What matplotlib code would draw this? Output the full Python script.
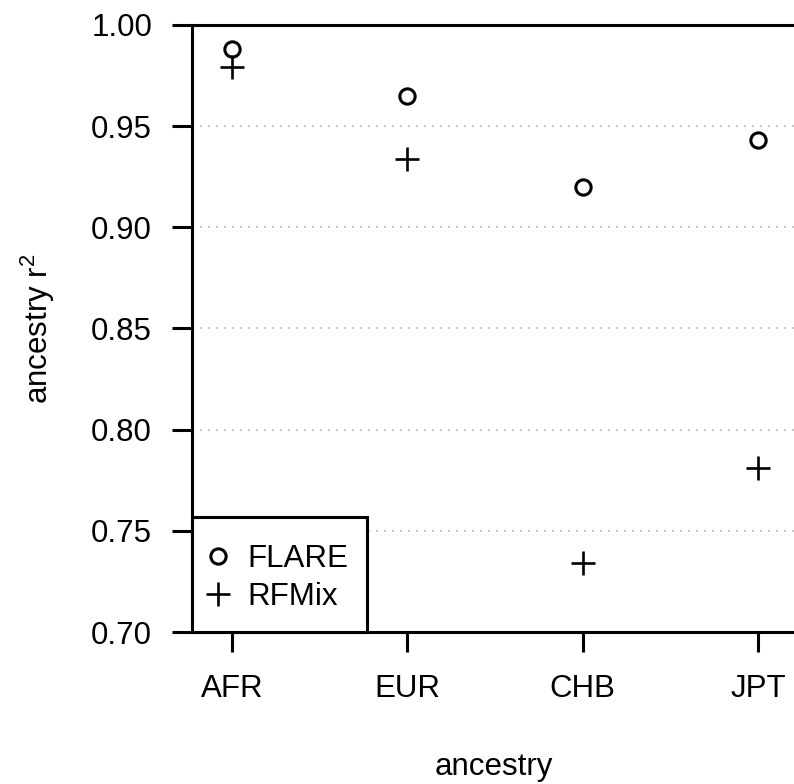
import matplotlib.pyplot as plt
import numpy as np
from matplotlib.patches import Rectangle

plt.rcParams['font.family'] = ['Liberation Sans', 'DejaVu Sans']
plt.rcParams['mathtext.fontset'] = 'custom'
plt.rcParams['mathtext.rm'] = 'Liberation Sans'
plt.rcParams['mathtext.it'] = 'Liberation Sans'

ancestry = ["AFR", "EUR", "CHB", "JPT"]
flare = [0.988, 0.965, 0.920, 0.943]
rfmix = [0.979, 0.934, 0.734, 0.781]
yticks = [0.70, 0.75, 0.80, 0.85, 0.90, 0.95, 1.00]
grid_y = [0.75, 0.80, 0.85, 0.90, 0.95]

fs = 22.5
lw = 2.2

fig = plt.figure(figsize=(7.94, 7.84), dpi=100)
ax = fig.add_axes([192 / 794, 1 - 632 / 784, 1 - 192 / 794, (632 - 25) / 784])

x = np.arange(1, len(ancestry) + 1)

for g in grid_y:
    ax.axhline(g, color="#c8c8c8", lw=1.44, ls=(0, (1, 3)), zorder=0)

ax.plot(x, flare, ls="none", marker="o", ms=11, mfc="none", mec="black", mew=2.2, label="FLARE")
ax.plot(x, rfmix, ls="none", marker="+", ms=17, mec="black", mew=1.9, label="RFMix")

ax.set_xlim(1 - 40 / 175.5, 4 + 36 / 175.5)
ax.set_ylim(0.70, 1.00)
ax.set_xticks(x)
ax.set_xticklabels(ancestry)
ax.set_yticks(yticks)
ax.set_yticklabels(["%.2f" % v for v in yticks])
ax.tick_params(length=14.4, width=lw, pad=14.4, labelsize=fs, direction="out")
ax.tick_params(axis="x", pad=16)

for s in ["left", "top", "bottom"]:
    ax.spines[s].set_linewidth(lw)
ax.spines["right"].set_visible(False)

# legend box
ax.add_patch(Rectangle((0, 0), 175 / 602, 115 / 607, transform=ax.transAxes,
                       fill=True, facecolor="white", edgecolor="black", lw=lw, zorder=3,
                       clip_on=False))
leg = ax.legend(loc="center left", bbox_to_anchor=(13 / 602, (632 - 578) / 607),
                borderaxespad=0, borderpad=0, fontsize=fs, frameon=False,
                handlelength=0.8, handletextpad=0.55, labelspacing=0.27)
leg.set_zorder(4)

fig.text(494 / 794, 1 - 775 / 784, "ancestry", fontsize=fs, ha="center", va="baseline")
fig.text(38 / 794, 1 - 329 / 784, "ancestry r$^{2}$", fontsize=fs, ha="center", va="center", rotation=90)

fig.savefig("out.png", dpi=100)
